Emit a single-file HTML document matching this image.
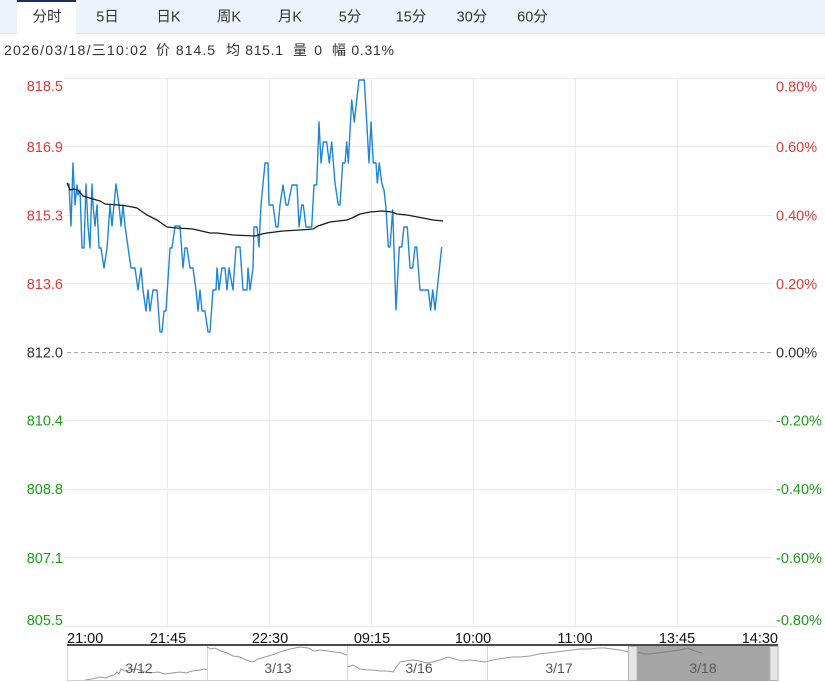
<!DOCTYPE html>
<html><head><meta charset="utf-8">
<style>
html,body{margin:0;padding:0;background:#fff;}
body{width:825px;height:682px;overflow:hidden;position:relative;font-family:"Liberation Sans","Noto Sans CJK SC",sans-serif;}
svg{position:absolute;left:0;top:0;}
</style></head>
<body>
<svg width="825" height="682" viewBox="0 0 825 682" xmlns="http://www.w3.org/2000/svg" font-family="Liberation Sans, Noto Sans CJK SC, sans-serif">
  <!-- tab bar -->
  <rect x="0" y="0" width="825" height="33" fill="#edf3fb"/>
  <rect x="0" y="33" width="825" height="1" fill="#dbe3ee"/>
  <rect x="17" y="0" width="59" height="34" fill="#ffffff"/>
  <rect x="17" y="0" width="59" height="2" fill="#1c2e5a"/>
  <g font-size="14.5" fill="#333" text-anchor="middle">
    <text x="47" y="21.5">分时</text>
    <text x="107.5" y="21.5">5日</text>
    <text x="168.5" y="21.5">日K</text>
    <text x="229" y="21.5">周K</text>
    <text x="290" y="21.5">月K</text>
    <text x="350" y="21.5">5分</text>
    <text x="411" y="21.5">15分</text>
    <text x="472" y="21.5">30分</text>
    <text x="532.5" y="21.5">60分</text>
  </g>
  <!-- info line -->
  <g font-size="14" fill="#333">
    <text x="4" y="55" textLength="143" lengthAdjust="spacing">2026/03/18/三10:02</text>
    <text x="156" y="55" textLength="59" lengthAdjust="spacing">价 814.5</text>
    <text x="226" y="55" textLength="57" lengthAdjust="spacing">均 815.1</text>
    <text x="293" y="55" textLength="29" lengthAdjust="spacing">量 0</text>
    <text x="332" y="55" textLength="62" lengthAdjust="spacing">幅 0.31%</text>
  </g>

  <!-- grid -->
  <g stroke="#ebebeb" stroke-width="1" fill="none">
    <line x1="65" y1="78.5" x2="825" y2="78.5"/>
    <line x1="65" y1="146.5" x2="773" y2="146.5"/>
    <line x1="65" y1="215.5" x2="773" y2="215.5"/>
    <line x1="65" y1="283.5" x2="773" y2="283.5"/>
    <line x1="65" y1="420.5" x2="773" y2="420.5"/>
    <line x1="65" y1="489.5" x2="773" y2="489.5"/>
    <line x1="65" y1="557.5" x2="773" y2="557.5"/>
    <line x1="65" y1="626.5" x2="778" y2="626.5"/>
    <line x1="167.5" y1="78" x2="167.5" y2="627"/>
    <line x1="269.5" y1="78" x2="269.5" y2="627"/>
    <line x1="371.5" y1="78" x2="371.5" y2="627"/>
    <line x1="473.5" y1="78" x2="473.5" y2="627"/>
    <line x1="575.5" y1="78" x2="575.5" y2="627"/>
    <line x1="677.5" y1="78" x2="677.5" y2="627"/>
  </g>
  <line x1="67" y1="352.5" x2="773" y2="352.5" stroke="#a8a8a8" stroke-width="1" stroke-dasharray="4,3"/>

  <!-- left axis labels -->
  <g font-size="14.5" text-anchor="end">
    <text x="63" y="91" fill="#e53935">818.5</text>
    <text x="63" y="152" fill="#e53935">816.9</text>
    <text x="63" y="220.5" fill="#e53935">815.3</text>
    <text x="63" y="289" fill="#e53935">813.6</text>
    <text x="63" y="357.5" fill="#333">812.0</text>
    <text x="63" y="425.5" fill="#1a9e1a">810.4</text>
    <text x="63" y="494" fill="#1a9e1a">808.8</text>
    <text x="63" y="563" fill="#1a9e1a">807.1</text>
    <text x="63" y="625" fill="#1a9e1a">805.5</text>
  </g>
  <!-- right axis labels -->
  <g font-size="14.5" text-anchor="start">
    <text x="776" y="91.5" fill="#e53935">0.80%</text>
    <text x="776" y="152" fill="#e53935">0.60%</text>
    <text x="776" y="220.5" fill="#e53935">0.40%</text>
    <text x="776" y="289" fill="#e53935">0.20%</text>
    <text x="776" y="357.5" fill="#333">0.00%</text>
    <text x="776" y="425.5" fill="#1a9e1a">-0.20%</text>
    <text x="776" y="494" fill="#1a9e1a">-0.40%</text>
    <text x="776" y="563" fill="#1a9e1a">-0.60%</text>
    <text x="776" y="625" fill="#1a9e1a">-0.80%</text>
  </g>

  <!-- price line -->
  <polyline fill="none" stroke="#1e86d4" stroke-width="1.4" stroke-linejoin="round" points="
67,184 69,184 71,226 73,163 75,205 77,185 78,195 80,190 82,248 84,248 86,184 88,226 90,248 92,184 93,205 95,226 97,205 99,248 101,248 104,268 107,248 110,205 112,226 116,184 119,205 121,226 123,205 125,226 131,268 135,268 138,290 141,268 143,290 146,311 148,290 150,311 153,290 157,290 160,332 162,332 164,311 166,311 170,248 172,248 175,226 180,226 183,268 185,248 187,248 190,268 193,268 196,290 198,311 200,290 202,311 205,311 208,332 210,332 213,290 216,290 217,268 219,290 222,268 225,268 227,290 229,268 233,290 236,247 240,247 243,290 247,290 248,268 250,290 253,268 254,227 257,227 259,247 261,205 265,163 268,163 269,205 273,205 276,227 278,227 280,205 283,185 286,205 288,205 292,185 297,185 299,227 301.7,205 303.3,205 306,227 311.7,227 314,185 316.7,185 319,122 321,163 323.3,142 326.7,142 329.3,163 331.7,142 335,183 338.3,205 340,205 342.7,163 345,163 346.7,142 348.3,163 351.7,100 354.3,122 356.7,100 359,80 364.3,80 366.7,122 369,163 371,122 373.3,163 376,163 377.3,183 379.3,163 381.7,183 384,190 386,208 388.3,247 390,247 392.7,210 396,310 399.3,247 401.7,247 404,227 407.3,227 410,268 412.7,268 415,247 416.7,247 420,290 428.3,290 430.7,310 432.7,290 435,310 441.7,247"/>
  <!-- average line -->
  <polyline fill="none" stroke="#1a1a1a" stroke-width="1.3" stroke-linejoin="round" points="
67,183 70,190 73,189 78,190 83,196 93,199 100,201 105,204 118,205 127,206 137,208 147,215 157,220 167,227 177,228 193,229 210,233 217,233 233,235 255,236 262,234 267,233 283,231 300,230 313,229 318,226 330,222 347,220 352,218 360,214 370,212 382,211 392,212 397,214 407,215 423,218 433,220 443,221"/>

  <!-- time labels -->
  <g font-size="14.5" fill="#111">
    <text x="67" y="643">21:00</text>
    <text x="168" y="643" text-anchor="middle">21:45</text>
    <text x="270" y="643" text-anchor="middle">22:30</text>
    <text x="372" y="643" text-anchor="middle">09:15</text>
    <text x="473" y="643" text-anchor="middle">10:00</text>
    <text x="575" y="643" text-anchor="middle">11:00</text>
    <text x="677" y="643" text-anchor="middle">13:45</text>
    <text x="778" y="643" text-anchor="end">14:30</text>
  </g>

  <!-- navigator -->
  <rect x="67.5" y="645.5" width="710" height="35" fill="#fff" stroke="#d0d0d0" stroke-width="1"/>
  <g stroke="#d4d4d4" stroke-width="1">
    <line x1="207.5" y1="646" x2="207.5" y2="681"/>
    <line x1="347.5" y1="646" x2="347.5" y2="681"/>
    <line x1="487.5" y1="646" x2="487.5" y2="681"/>
  </g>
  <rect x="637" y="646" width="133" height="35" fill="#a5a5a5"/>
  <rect x="628.5" y="646.5" width="8.5" height="34" fill="#e6e6e6" stroke="#b5b5b5" stroke-width="1"/>
  <rect x="770" y="646.5" width="8" height="34" fill="#e6e6e6" stroke="#b5b5b5" stroke-width="1"/>
  <polyline fill="none" stroke="#9a9a9a" stroke-width="1" points="85,680 92,679 100,677 106,678 110,676 114,675 117,672 119,674 121,669 125,671 130,670 135,669 140,670 145,672 150,673 158,672 165,674 172,673 180,672 186,673 192,671 200,670 205,669 207,670"/>
  <polyline fill="none" stroke="#9a9a9a" stroke-width="1" points="207,647 211,649 215,648 221,651 227,653 233,656 240,657 246,660 253,662 258,659 265,657 272,655 280,652 290,649 300,647 308,648 314,651 320,650 328,651 335,652 341,653 347,655"/>
  <polyline fill="none" stroke="#9a9a9a" stroke-width="1" points="348,667 353,665 360,669 367,670 374,670 380,671 387,671 393,672 397,666 400,662 406,661 413,660 420,661 426,663 432,662 440,660 448,657 455,659 462,661 470,660 478,661 485,662 492,660 499,659 505,658 512,657 520,657 530,656 539,654 548,653 556,652 564,651 572,650 580,649 590,649 598,648 605,648 612,649 620,650 628,652"/>
  <polyline fill="none" stroke="#7d7d7d" stroke-width="1" points="638,652 644,654 650,654 657,653 665,652 672,651 680,650 688,648 692,650 695,651 702,653"/>
  <rect x="67" y="644" width="711" height="2" fill="#4a4a4a"/>
  <g font-size="14" fill="#555" text-anchor="middle">
    <text x="139" y="673">3/12</text>
    <text x="278" y="673">3/13</text>
    <text x="419" y="673">3/16</text>
    <text x="559" y="673">3/17</text>
    <text x="703" y="673" fill="#5a5a5a">3/18</text>
  </g>
</svg>
</body></html>
